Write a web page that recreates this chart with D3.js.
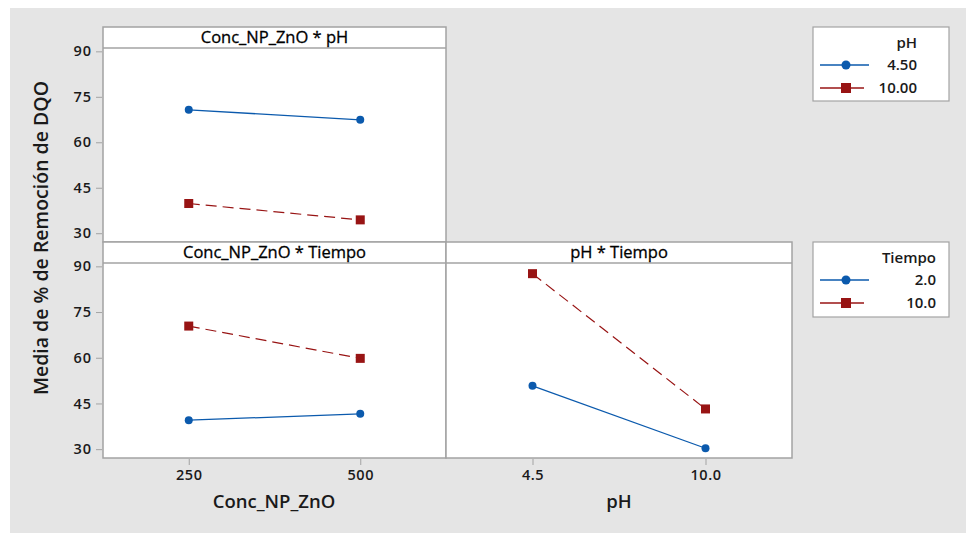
<!DOCTYPE html>
<html>
<head>
<meta charset="utf-8">
<script src="https://cdn.jsdelivr.net/npm/d3@7"></script>
<style>
  body { margin: 0; background: #ffffff; }
  svg { display: block; font-family: "Open Sans", "Noto Sans", sans-serif; }
</style>
</head>
<body>
<svg id="chart"></svg>
<script>
// valores
let concLevels = ['250', '500']
let phLevels = ['4.5', '10.0']
let yTicks = [30, 45, 60, 75, 90]

let concPh_ph45 = [70.7, 67.4]
let concPh_ph10 = [39.8, 34.4]
let concTiempo_t2 = [39.5, 41.6]
let concTiempo_t10 = [70.4, 59.8]
let phTiempo_t2 = [50.8, 30.3]
let phTiempo_t10 = [87.6, 43.2]

let phLegend = ['4.50', '10.00']
let tiempoLegend = ['2.0', '10.0']

let width = 966
let height = 533
let blue = '#0b5aad'
let red = '#981414'
let borderColor = '#a3a3a3'
let textColor = '#1a1a1a'

let svg = d3.select('#chart')
svg.attr('width', width).attr('height', height)

// fondo gris
svg.append('rect')
    .attr('x', 10).attr('y', 8)
    .attr('width', width - 10).attr('height', height - 8)
    .attr('fill', '#e5e5e5')

let panels = [
    {title: 'Conc_NP_ZnO * pH', x0: 103, x1: 446, y0: 27, y1: 242, strip: 21,
     cats: concLevels, a: concPh_ph45, b: concPh_ph10, yAxis: true, xAxis: false},
    {title: 'Conc_NP_ZnO * Tiempo', x0: 103, x1: 446, y0: 242, y1: 458, strip: 21,
     cats: concLevels, a: concTiempo_t2, b: concTiempo_t10, yAxis: true, xAxis: true},
    {title: 'pH * Tiempo', x0: 446, x1: 792, y0: 242, y1: 458, strip: 21,
     cats: phLevels, a: phTiempo_t2, b: phTiempo_t10, yAxis: false, xAxis: true}
]

let drawPanel = (p) => {
    let g = svg.append('g')
    let xScale = d3.scalePoint()
        .domain(p.cats)
        .range([p.x0, p.x1])
        .padding(0.5)
    let yScale = d3.scaleLinear()
        .domain([27.1, 91.1])
        .range([p.y1, p.y0 + p.strip])

    g.append('rect')
        .attr('x', p.x0).attr('y', p.y0)
        .attr('width', p.x1 - p.x0).attr('height', p.y1 - p.y0)
        .attr('fill', 'white')
        .attr('stroke', borderColor).attr('stroke-width', 1.5)
    g.append('line')
        .attr('x1', p.x0).attr('x2', p.x1)
        .attr('y1', p.y0 + p.strip).attr('y2', p.y0 + p.strip)
        .attr('stroke', borderColor).attr('stroke-width', 1.5)
    g.append('text')
        .attr('x', (p.x0 + p.x1) / 2).attr('y', p.y0 + 16)
        .attr('text-anchor', 'middle')
        .attr('font-size', 16.5).attr('font-weight', 500)
        .attr('fill', '#000')
        .style('stroke', '#000').style('stroke-width', 0.3)
        .text(p.title)

    if (p.yAxis) {
        let yAxis = d3.axisLeft(yScale).tickValues(yTicks).tickSize(6).tickPadding(4)
        let ay = g.append('g')
            .attr('transform', 'translate(' + (p.x0 - 1) + ',0)')
            .call(yAxis)
        ay.select('.domain').remove()
        ay.selectAll('line').attr('stroke', borderColor)
        ay.selectAll('text').attr('font-size', 14.5).attr('font-weight', 600)
            .attr('fill', textColor).attr('font-family', '"Open Sans", sans-serif')
            .style('letter-spacing', '1px')
    }
    if (p.xAxis) {
        let xAxis = d3.axisBottom(xScale).tickSize(6).tickPadding(5)
        let ax = g.append('g')
            .attr('transform', 'translate(0,' + (p.y1 + 1) + ')')
            .call(xAxis)
        ax.select('.domain').remove()
        ax.selectAll('line').attr('stroke', borderColor)
        ax.selectAll('text').attr('font-size', 14.5).attr('font-weight', 600)
            .attr('fill', textColor).attr('font-family', '"Open Sans", sans-serif')
            .style('letter-spacing', '0.5px')
    }

    let line = d3.line()
        .x((d, i) => xScale(p.cats[i]))
        .y(d => yScale(d))

    g.append('path')
        .datum(p.b)
        .attr('d', line)
        .attr('fill', 'none')
        .attr('stroke', red).attr('stroke-width', 1.2)
        .attr('stroke-dasharray', '11,6')
    g.append('path')
        .datum(p.a)
        .attr('d', line)
        .attr('fill', 'none')
        .attr('stroke', blue).attr('stroke-width', 1.3)

    g.selectAll('.sq')
        .data(p.b)
        .enter()
        .append('rect')
        .attr('x', (d, i) => xScale(p.cats[i]) - 4.5)
        .attr('y', d => yScale(d) - 4.5)
        .attr('width', 9).attr('height', 9)
        .attr('fill', red)
    g.selectAll('.dot')
        .data(p.a)
        .enter()
        .append('circle')
        .attr('cx', (d, i) => xScale(p.cats[i]))
        .attr('cy', d => yScale(d))
        .attr('r', 4)
        .attr('fill', blue)
}

panels.forEach(p => drawPanel(p))

// titulos de ejes
svg.append('text')
    .attr('transform', 'translate(48,' + 238 + ') rotate(-90)')
    .attr('text-anchor', 'middle')
    .attr('font-size', 19.5).attr('font-weight', 600)
    .attr('fill', textColor)
    .text('Media de % de Remoción de DQO')

svg.append('text')
    .attr('x', 274).attr('y', 508)
    .attr('text-anchor', 'middle')
    .attr('font-size', 18.5).attr('font-weight', 600)
    .attr('fill', textColor)
    .text('Conc_NP_ZnO')

svg.append('text')
    .attr('x', 619).attr('y', 508)
    .attr('text-anchor', 'middle')
    .attr('font-size', 18.5).attr('font-weight', 600)
    .attr('fill', textColor)
    .text('pH')

// leyendas
let drawLegend = (x, y, w, h, title, labels, textRight) => {
    let g = svg.append('g')
    g.append('rect')
        .attr('x', x).attr('y', y).attr('width', w).attr('height', h)
        .attr('fill', 'white').attr('stroke', borderColor).attr('stroke-width', 1.2)
    g.append('text')
        .attr('x', textRight).attr('y', y + 21)
        .attr('text-anchor', 'end')
        .attr('font-size', 15).attr('font-weight', 600)
        .attr('fill', textColor)
        .text(title)
    labels.forEach((lab, i) => {
        let cy = y + 38 + i * 23
        let col = i === 0 ? blue : red
        g.append('line')
            .attr('x1', x + 7).attr('x2', i === 0 ? x + 56 : x + 51)
            .attr('y1', cy).attr('y2', cy)
            .attr('stroke', col).attr('stroke-width', 1.5)
        if (i === 0) {
            g.append('circle').attr('cx', x + 33).attr('cy', cy).attr('r', 4.5).attr('fill', col)
        } else {
            g.append('rect').attr('x', x + 28).attr('y', cy - 5).attr('width', 10).attr('height', 10).attr('fill', col)
        }
        g.append('text')
            .attr('x', textRight).attr('y', cy + 5)
            .attr('text-anchor', 'end')
            .attr('font-size', 15).attr('font-weight', 600)
            .attr('fill', textColor)
            .text(lab)
    })
}

drawLegend(813, 27, 136, 74, 'pH', phLegend, 917)
drawLegend(813, 242, 136, 75, 'Tiempo', tiempoLegend, 936)
</script>
</body>
</html>
